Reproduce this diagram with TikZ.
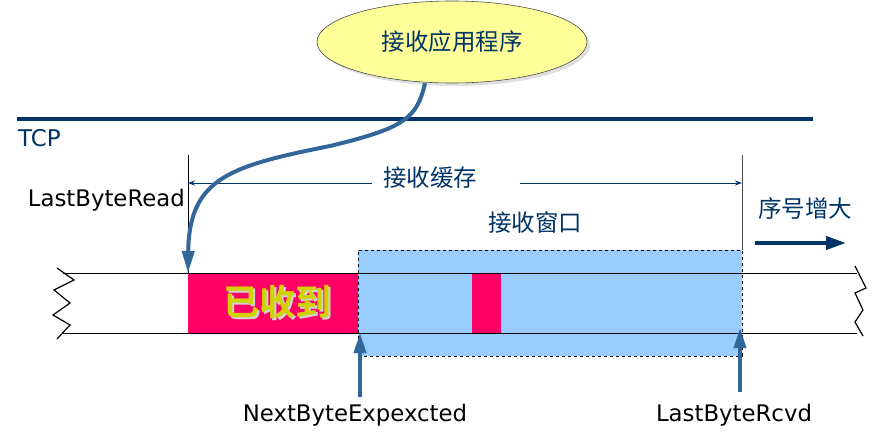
\documentclass[tikz,border=0pt]{standalone}
\usepackage{fontspec}
\setmainfont{DejaVu Sans}
\newfontfamily\cjk{Noto Sans CJK SC}
\newfontfamily\cjkbold{Noto Sans CJK SC Bold}
\usetikzlibrary{arrows.meta,shapes.geometric,shadows}
\definecolor{navy}{HTML}{003366}
\definecolor{steel}{HTML}{336699}
\definecolor{pinkred}{HTML}{FF0066}
\definecolor{winblue}{HTML}{99CCFF}
\definecolor{lightyel}{HTML}{FFFF99}
\definecolor{recvtxt}{HTML}{D2D200}
\tikzset{
  thinln/.style={draw=black, line width=1pt},
  cjklabel/.style={font=\cjk\fontsize{23.5}{26}\selectfont, text=navy, inner sep=0pt},
  latlabel/.style={font=\fontsize{22.8}{25}\selectfont, text=black, inner sep=0pt},
  ptr/.style={draw=steel, line width=3.5pt, -{Triangle[length=20pt,width=12pt]}},
  bufarrow/.style={draw=navy, line width=1pt, -{Stealth[length=7pt,width=5pt]}},
}
\begin{document}
\begin{tikzpicture}[x=1pt,y=-1pt]
\useasboundingbox (0,0) rectangle (879,444);
% application ellipse
\node[ellipse, draw=black!70, line width=0.6pt, fill=lightyel, minimum width=270pt, minimum height=82pt,
      drop shadow={opacity=0.25, shadow xshift=3pt, shadow yshift=-3pt}] (app) at (452,42) {};
\node[cjklabel] (apptxt) at (452,42) {接收应用程序};
% TCP boundary
\coordinate (tcpL) at (17,119);
\coordinate (tcpR) at (813,119);
\draw[navy, line width=4pt] (tcpL) -- (tcpR);
\node[font=\fontsize{23}{25}\selectfont, text=navy, inner sep=0pt, anchor=west] (tcp) at (18,138) {TCP};
% receive window (blue)
\node[draw=black, dashed, line width=0.8pt, fill=winblue, minimum width=384pt, minimum height=106pt, inner sep=0pt, anchor=north west] (win) at (358,250) {};
% received (pink) segments
\node[fill=pinkred, minimum width=170pt, minimum height=60pt, inner sep=0pt, anchor=north west] (rcvd) at (188,273) {};
\node[fill=pinkred, minimum width=29pt, minimum height=60pt, inner sep=0pt, anchor=north west] (rcvd2) at (472,273) {};
\node[font=\cjkbold\fontsize{36}{38}\selectfont, text=recvtxt, inner sep=0pt] (rtxt) at (277,303)
  {\makebox[0pt][l]{\hspace{2.5pt}\raisebox{-2.5pt}{\textcolor{black!18}{已收到}}}已收到};
% byte stream lines
\coordinate (topL) at (63,273);
\coordinate (topR) at (857,273);
\coordinate (botL) at (63,333);
\coordinate (botR) at (857,333);
\draw[thinln] (topL) -- (topR);
\draw[thinln] (botL) -- (botR);
% zigzags
\draw[line width=1.2pt] (57,268) -- (74,280) -- (54,290) -- (70,303) -- (53,315) -- (70,325) -- (57,339);
\draw[line width=1.2pt] (855,266) -- (866,288) -- (855,293) -- (863,310) -- (855,322) -- (863,336);
% vertical markers
\coordinate (lv1) at (188,155);
\coordinate (lv2) at (188,273);
\coordinate (rv1) at (742,155);
\coordinate (rv2) at (742,250);
\draw[thinln] (lv1) -- (lv2);
\draw[black!70, line width=1pt] (rv1) -- (rv2);
% receive buffer
\node[cjklabel] (buf) at (430,178) {接收缓存};
\coordinate (bufL) at (372,183);
\coordinate (bufR) at (520,183);
\coordinate (bufLe) at (188,183);
\coordinate (bufRe) at (742,183);
\draw[bufarrow] (bufL) -- (bufLe);
\draw[bufarrow] (bufR) -- (bufRe);
% labels
\node[latlabel, anchor=east] (lbr) at (185,200) {LastByteRead};
\node[cjklabel] (wintxt) at (535,223) {接收窗口};
\node[cjklabel] (seq) at (805,209) {序号增大};
\coordinate (seqA) at (755,243);
\coordinate (seqB) at (846,243);
\draw[navy, line width=4pt, -{Triangle[length=20pt,width=13pt]}] (seqA) -- (seqB);
% app reads curve
\draw[steel, line width=4pt, -{Triangle[length=22pt,width=12pt]}]
  (app.south) ++(-27,0) coordinate (appout)
  (appout) .. controls (417,118) and (405,128) .. (330,146)
           .. controls (230,166) and (189,178) .. (lv2);
% bottom pointers
\coordinate (nbeS) at (360,397);
\coordinate (nbeT) at (360,333);
\coordinate (lbrS) at (740,392);
\coordinate (lbrT) at (740,328);
\draw[ptr] (nbeS) -- (nbeT);
\draw[ptr] (lbrS) -- (lbrT);
\node[latlabel] (nbe) at (355,415) {NextByteExpexcted};
\node[latlabel] (lrc) at (734,415) {LastByteRcvd};
\end{tikzpicture}
\end{document}
